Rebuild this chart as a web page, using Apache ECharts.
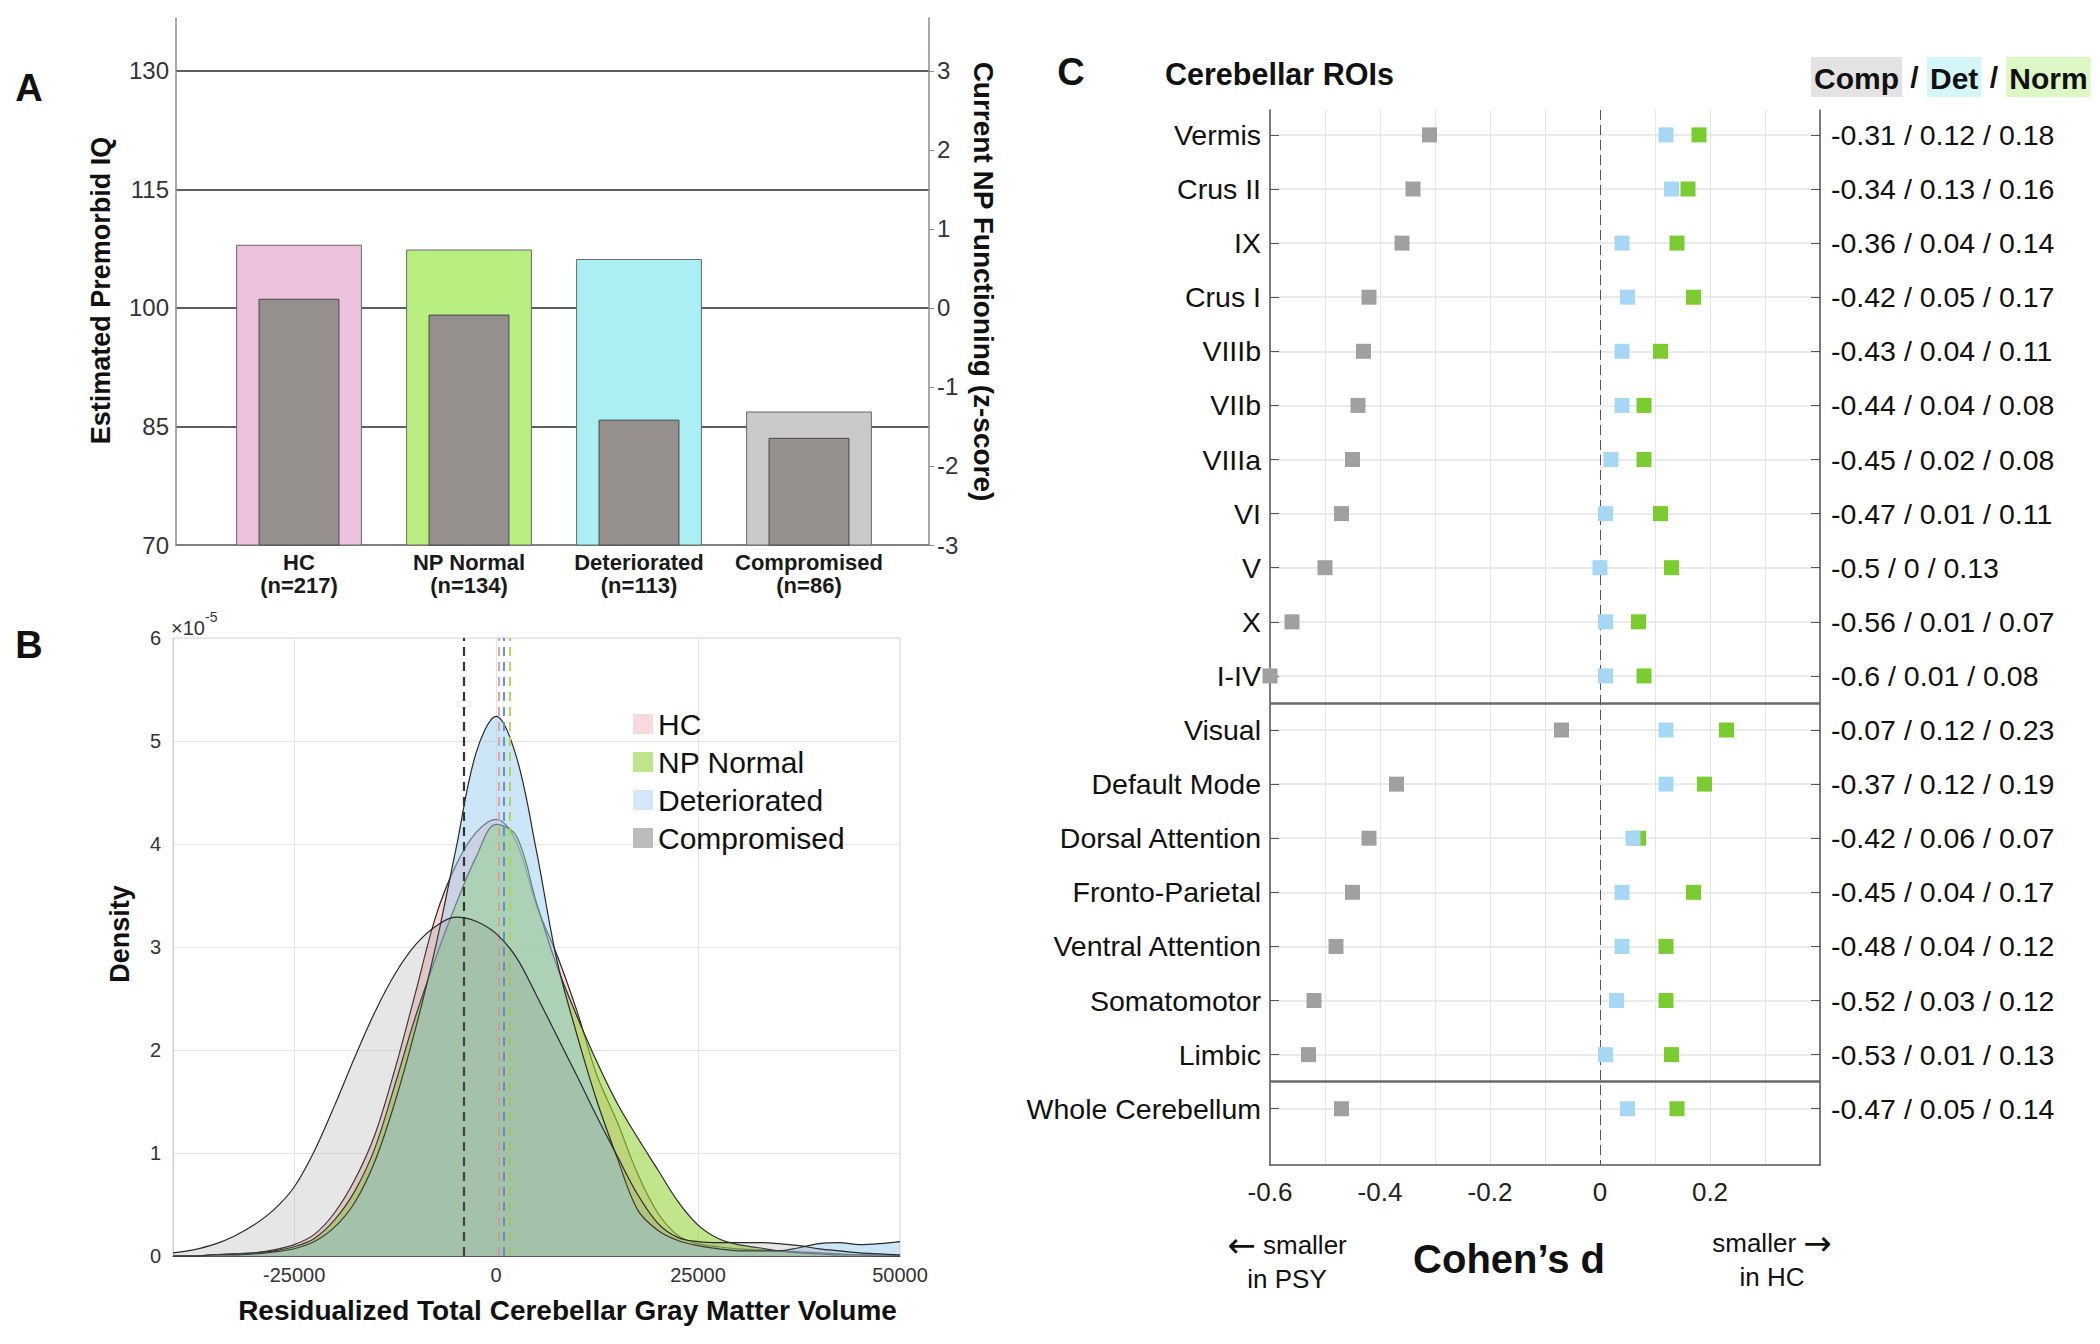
<!DOCTYPE html>
<html><head><meta charset="utf-8">
<script src="https://cdn.jsdelivr.net/npm/echarts@6/dist/echarts.min.js"></script>
<style>html,body{margin:0;padding:0;background:#fff}#c{width:2100px;height:1344px}</style>
</head><body><div id="c"></div>
<script>
const FONT = '"Liberation Sans", Arial, Helvetica, sans-serif';

// ---------- Panel A data ----------
const groupNames = ['HC', 'NP Normal', 'Deteriorated', 'Compromised'];
const groupN = [217, 134, 113, 86];
const premorbidIQ = [108.0, 107.4, 106.2, 86.9];
const currentNPz = [0.11, -0.09, -1.42, -1.65];
const iqTicks = [70, 85, 100, 115, 130];
const zTicks = [-3, -2, -1, 0, 1, 2, 3];

// ---------- Panel B data (density x 1e-5) ----------
const densityNames = ['HC', 'NP Normal', 'Deteriorated', 'Compromised'];
const densityX = [-40000,-37500,-35000,-32500,-30000,-27500,-25000,-22500,-20000,-17500,-15000,-12500,-10000,-7500,-5000,-2500,0,2500,5000,7500,10000,12500,15000,17500,20000,22500,25000,27500,30000,32500,35000,37500,40000,42500,45000,47500,50000];
const densityHC   = [0.00,0.00,0.01,0.02,0.03,0.06,0.11,0.21,0.42,0.74,1.18,1.82,2.55,3.29,3.79,4.11,4.24,4.02,3.40,2.93,2.38,1.75,1.30,0.80,0.42,0.20,0.12,0.09,0.07,0.06,0.05,0.04,0.03,0.02,0.01,0.01,0.00];
const densityNP   = [0.00,0.00,0.01,0.02,0.03,0.05,0.09,0.17,0.35,0.63,1.05,1.67,2.32,2.89,3.41,3.87,4.19,4.08,3.43,2.82,2.33,1.88,1.48,1.15,0.84,0.53,0.30,0.17,0.11,0.08,0.05,0.03,0.02,0.01,0.01,0.00,0.00];
const densityDet  = [0.00,0.00,0.01,0.01,0.02,0.04,0.07,0.14,0.28,0.52,0.92,1.50,2.20,3.00,3.94,4.88,5.24,4.85,3.93,2.88,2.15,1.50,0.95,0.45,0.25,0.15,0.10,0.07,0.05,0.05,0.05,0.08,0.12,0.13,0.11,0.12,0.14];
const densityComp = [0.03,0.06,0.11,0.19,0.30,0.45,0.67,1.02,1.46,1.93,2.37,2.74,3.02,3.20,3.29,3.25,3.13,2.90,2.53,2.14,1.75,1.35,0.97,0.60,0.32,0.18,0.14,0.13,0.13,0.13,0.12,0.10,0.07,0.05,0.03,0.02,0.01];
const groupMeans = [330, 1650, 950, -4050];
const volumeTicks = [-25000, 0, 25000, 50000];

// ---------- Panel C data ----------
const rois = ['Vermis','Crus II','IX','Crus I','VIIIb','VIIb','VIIIa','VI','V','X','I-IV','Visual','Default Mode','Dorsal Attention','Fronto-Parietal','Ventral Attention','Somatomotor','Limbic','Whole Cerebellum'];
const dComp = [-0.31,-0.34,-0.36,-0.42,-0.43,-0.44,-0.45,-0.47,-0.5,-0.56,-0.6,-0.07,-0.37,-0.42,-0.45,-0.48,-0.52,-0.53,-0.47];
const dDet  = [0.12,0.13,0.04,0.05,0.04,0.04,0.02,0.01,0,0.01,0.01,0.12,0.12,0.06,0.04,0.04,0.03,0.01,0.05];
const dNorm = [0.18,0.16,0.14,0.17,0.11,0.08,0.08,0.11,0.13,0.07,0.08,0.23,0.19,0.07,0.17,0.12,0.12,0.13,0.14];
const groupBreaks = [10.5, 17.5];
const cohenTicks = [-0.6, -0.4, -0.2, 0, 0.2];

// ---------- styles ----------
const barColors = ['#ecc1de', '#b8ef80', '#aaeff1', '#c9c9c9'];
const fillColors = ['rgb(245,175,175)', 'rgb(150,211,60)', 'rgb(155,205,239)', 'rgb(130,130,130)'];
const fillAlpha = [0.5, 0.6, 0.5, 0.2];
const legendColors = ['#f6dadd', '#bde68c', '#d2e8f8', '#bcbcbc'];
const meanColors = ['#e79a9a', '#b4d43c', '#4a8fd8', '#333333'];
const axisGray = '#8c8c8c';
const roiIdx = rois.map((_, i) => i);
const densitySets = [densityHC, densityNP, densityDet, densityComp];

const chart = echarts.init(document.getElementById('c'), null, {renderer: 'svg', width: 2100, height: 1344});

const densitySeries = densityNames.map((n, k) => {
  const s = {
    name: n, type: 'line', xAxisIndex: 2, yAxisIndex: 4,
    smooth: 0.35, showSymbol: false, symbol: 'none',
    data: densityX.map((x, i) => [x, densitySets[k][i]]),
    lineStyle: {color: '#2a2a2a', width: 1.2},
    areaStyle: {color: fillColors[k], opacity: fillAlpha[k]},
    z: 2 + k
  };
  if (k === 3) {
    s.markLine = {
      silent: true, symbol: 'none', label: {show: false},
      data: groupMeans.map((m, j) => ({xAxis: m, lineStyle: {color: meanColors[j], type: [9, 6], width: j === 3 ? 2.2 : 1.8}}))
    };
  }
  return s;
});

const cohenSeries = [
  {name: 'Comp', color: '#a0a0a0', data: dComp},
  {name: 'Norm', color: '#7acc30', data: dNorm},
  {name: 'Det', color: '#a6d8f5', data: dDet}
].map((d, k) => {
  const s = {
    name: d.name, type: 'scatter', xAxisIndex: 3, yAxisIndex: 5,
    symbol: 'rect', symbolSize: 15, clip: false,
    data: d.data.map((v, i) => [v, i]),
    itemStyle: {color: d.color, opacity: 1},
    z: 5 + k
  };
  if (k === 0) {
    s.markLine = {
      silent: true, symbol: 'none', label: {show: false},
      data: groupBreaks.map(b => ({yAxis: b, lineStyle: {color: '#6a6a6a', width: 2.5, type: 'solid'}}))
        .concat([{xAxis: 0, lineStyle: {color: '#555', width: 1, type: [10, 5]}}])
    };
  }
  return s;
});

const hdr = {fontSize: 30, fontWeight: 'bold', fontFamily: FONT, color: '#111'};

const option = {
  animation: false,
  backgroundColor: '#ffffff',
  textStyle: {fontFamily: FONT},
  title: [{
    left: 1806, top: 52,
    text: '{c|Comp} / {d|Det} / {n|Norm}',
    textStyle: Object.assign({}, hdr, {
      rich: {
        c: Object.assign({backgroundColor: '#e3e3e3', padding: [6, 3, 4, 3]}, hdr),
        d: Object.assign({backgroundColor: '#d4f6f9', padding: [6, 3, 4, 3]}, hdr),
        n: Object.assign({backgroundColor: '#dcf8c4', padding: [6, 3, 4, 3]}, hdr)
      }
    })
  }],
  legend: {
    data: densityNames.map((n, i) => ({name: n, itemStyle: {color: legendColors[i], borderWidth: 0}})),
    orient: 'vertical', left: 628, top: 704,
    itemWidth: 20, itemHeight: 20, itemGap: 8, icon: 'rect',
    selectedMode: false,
    textStyle: {fontSize: 30, fontFamily: FONT, color: '#111'}
  },
  grid: [
    {left: 176, top: 18, width: 753, height: 527},
    {left: 214, top: 18, width: 680, height: 527},
    {left: 173, top: 638, width: 727, height: 618, show: true, borderColor: '#d6d6d6', borderWidth: 1, backgroundColor: 'transparent'},
    {left: 1270, top: 110, width: 550, height: 1055}
  ],
  xAxis: [
    {gridIndex: 0, type: 'value', min: 0, max: 1,
      axisLine: {show: true, onZero: false, lineStyle: {color: axisGray, width: 1.5}},
      axisTick: {show: false}, axisLabel: {show: false}, splitLine: {show: false}},
    {gridIndex: 1, type: 'category', data: groupNames,
      axisLine: {show: false}, axisTick: {show: false},
      axisLabel: {interval: 0, fontSize: 22, fontWeight: 'bold', color: '#1a1a1a', lineHeight: 23, margin: 6,
        formatter: (v, i) => v + '\n(n=' + groupN[i] + ')'}},
    {gridIndex: 2, type: 'value', min: -40000, max: 50000,
      axisLine: {show: true, onZero: false, lineStyle: {color: '#555', width: 1.2}},
      axisTick: {show: false, customValues: volumeTicks},
      axisLabel: {customValues: volumeTicks, fontSize: 20, color: '#333', margin: 9, formatter: v => String(v)},
      splitLine: {show: true, lineStyle: {color: '#e6e6e6', width: 1}},
      name: 'Residualized Total Cerebellar Gray Matter Volume', nameLocation: 'middle', nameGap: 40,
      nameTextStyle: {fontSize: 28, fontWeight: 'bold', color: '#111', padding: [0, 0, 0, 62]}},
    {gridIndex: 3, type: 'value', min: -0.6, max: 0.4, interval: 0.1,
      axisLine: {show: true, onZero: false, lineStyle: {color: '#555', width: 1.5}},
      axisTick: {show: false},
      axisLabel: {fontSize: 26, color: '#222', margin: 14,
        formatter: v => cohenTicks.some(t => Math.abs(t - v) < 1e-6) ? String(Math.round(v * 10) / 10) : ''},
      splitLine: {show: true, lineStyle: {color: '#e6e6e6', width: 1}}}
  ],
  yAxis: [
    {gridIndex: 0, type: 'value', position: 'left', min: 70, max: 136.7,
      axisLine: {show: true, onZero: false, lineStyle: {color: axisGray, width: 1.5}},
      axisTick: {show: false, customValues: iqTicks},
      axisLabel: {customValues: iqTicks, fontSize: 24, color: '#333', margin: 7},
      splitLine: {show: true, lineStyle: {color: '#5e5e5e', width: 2}},
      name: 'Estimated Premorbid IQ', nameLocation: 'middle', nameRotate: 90, nameGap: 62,
      nameTextStyle: {fontSize: 27, fontWeight: 'bold', color: '#111', padding: [0, 18, 0, 0]}},
    {gridIndex: 0, type: 'value', position: 'right', min: -3, max: 3.67,
      axisLine: {show: true, onZero: false, lineStyle: {color: axisGray, width: 1.5}},
      axisTick: {show: true, customValues: zTicks, length: 5, lineStyle: {color: axisGray}},
      axisLabel: {customValues: zTicks, fontSize: 24, color: '#333', margin: 8},
      splitLine: {show: false},
      name: 'Current NP Functioning (z-score)', nameLocation: 'middle', nameRotate: -90, nameGap: 40,
      nameTextStyle: {fontSize: 28, fontWeight: 'bold', color: '#111'}},
    {gridIndex: 1, type: 'value', min: 70, max: 136.7, show: false},
    {gridIndex: 1, type: 'value', min: -3, max: 3.67, show: false},
    {gridIndex: 2, type: 'value', min: 0, max: 6, interval: 1,
      axisLine: {show: true, onZero: false, lineStyle: {color: '#cfcfcf'}},
      axisTick: {show: false},
      axisLabel: {fontSize: 20, color: '#333', margin: 12},
      splitLine: {show: true, lineStyle: {color: '#e6e6e6', width: 1}},
      name: 'Density', nameLocation: 'middle', nameRotate: 90, nameGap: 40,
      nameTextStyle: {fontSize: 27, fontWeight: 'bold', color: '#111', padding: [0, 0, 0, 26]}},
    {gridIndex: 3, type: 'value', position: 'left', inverse: true, min: -0.46, max: 19.04,
      axisLine: {show: true, onZero: false, lineStyle: {color: '#555', width: 1.5}},
      axisTick: {show: true, inside: true, length: 9, customValues: roiIdx, lineStyle: {color: '#555'}},
      axisLabel: {customValues: roiIdx, formatter: v => rois[Math.round(v)], fontSize: 28.5, color: '#111', margin: 9},
      splitLine: {show: true, lineStyle: {color: '#e4e4e4', width: 1.5}}},
    {gridIndex: 3, type: 'value', position: 'right', inverse: true, min: -0.46, max: 19.04,
      axisLine: {show: true, onZero: false, lineStyle: {color: '#555', width: 1.5}},
      axisTick: {show: true, inside: true, length: 9, customValues: roiIdx, lineStyle: {color: '#555'}},
      axisLabel: {customValues: roiIdx, fontSize: 28.5, color: '#111', margin: 11,
        formatter: v => { const i = Math.round(v); return dComp[i] + ' / ' + dDet[i] + ' / ' + dNorm[i]; }},
      splitLine: {show: false}}
  ],
  series: [
    {name: 'Estimated Premorbid IQ', type: 'bar', xAxisIndex: 1, yAxisIndex: 2, barWidth: '74%',
      data: premorbidIQ.map((v, i) => ({value: v, itemStyle: {color: barColors[i]}})),
      itemStyle: {borderColor: '#6a6a6a', borderWidth: 1}, z: 3},
    {name: 'Current NP Functioning', type: 'custom', xAxisIndex: 1, yAxisIndex: 3,
      encode: {x: 0, y: 1},
      data: currentNPz.map((v, i) => [i, v]),
      renderItem: (params, api) => {
        const top = api.coord([api.value(0), api.value(1)]);
        const w = api.size([1, 0])[0] * 0.47;
        const bottom = params.coordSys.y + params.coordSys.height;
        return {type: 'rect', shape: {x: top[0] - w / 2, y: top[1], width: w, height: bottom - top[1]},
          style: {fill: '#958f8e', stroke: '#4a4a4a', lineWidth: 1}};
      }, z: 4}
  ].concat(densitySeries).concat(cohenSeries),
  graphic: [
    {type: 'text', x: 29, y: 88, style: {text: 'A', fontSize: 38, fontWeight: 'bold', fontFamily: FONT, fill: '#111', align: 'center', verticalAlign: 'middle'}},
    {type: 'text', x: 29, y: 645, style: {text: 'B', fontSize: 38, fontWeight: 'bold', fontFamily: FONT, fill: '#111', align: 'center', verticalAlign: 'middle'}},
    {type: 'text', x: 1071, y: 72, style: {text: 'C', fontSize: 38, fontWeight: 'bold', fontFamily: FONT, fill: '#111', align: 'center', verticalAlign: 'middle'}},
    {type: 'text', x: 1165, y: 74, style: {text: 'Cerebellar ROIs', fontSize: 30.5, fontWeight: 'bold', fontFamily: FONT, fill: '#111', align: 'left', verticalAlign: 'middle'}},
    {type: 'text', x: 1509, y: 1259, style: {text: 'Cohen\u2019s d', fontSize: 40, fontWeight: 'bold', fontFamily: FONT, fill: '#111', align: 'center', verticalAlign: 'middle'}},
    {type: 'text', x: 1287, y: 1262, style: {text: '{a|\u2190} smaller\nin PSY', fontSize: 26, lineHeight: 34, fontFamily: FONT, fill: '#111', align: 'center', verticalAlign: 'middle',
      rich: {a: {fontSize: 34, fontFamily: '"DejaVu Sans", sans-serif', fill: '#111', lineHeight: 34}}}},
    {type: 'text', x: 1772, y: 1260, style: {text: 'smaller {a|\u2192}\nin HC', fontSize: 26, lineHeight: 34, fontFamily: FONT, fill: '#111', align: 'center', verticalAlign: 'middle',
      rich: {a: {fontSize: 34, fontFamily: '"DejaVu Sans", sans-serif', fill: '#111', lineHeight: 34}}}},
    {type: 'text', x: 171, y: 628, style: {text: '\u00d710', fontSize: 20, fontFamily: FONT, fill: '#333', align: 'left', verticalAlign: 'middle'}},
    {type: 'text', x: 205, y: 617, style: {text: '-5', fontSize: 14, fontFamily: FONT, fill: '#333', align: 'left', verticalAlign: 'middle'}}
  ]
};
chart.setOption(option);
</script>
</body></html>
